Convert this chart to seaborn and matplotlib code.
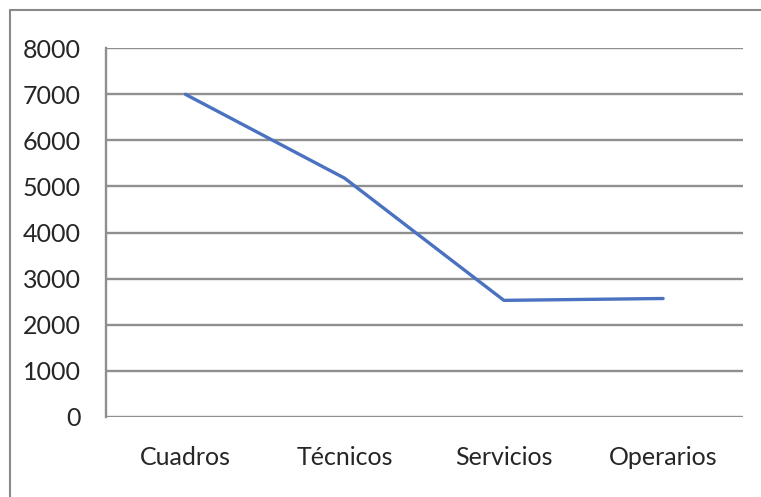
import matplotlib
matplotlib.use("Agg")
import matplotlib.pyplot as plt
from matplotlib.lines import Line2D
import seaborn as sns
import pandas as pd

categorias = ["Cuadros", "Técnicos", "Servicios", "Operarios"]
valores = [7000, 5180, 2530, 2570]
yticks = [0, 1000, 2000, 3000, 4000, 5000, 6000, 7000, 8000]

sns.set_style("white")
plt.rcParams["font.family"] = ["Lato", "DejaVu Sans"]

df = pd.DataFrame({"categoria": categorias, "valor": valores})

fig = plt.figure(figsize=(7.61, 4.97), dpi=100)
ax = fig.add_axes([0.139, 0.161, 0.837, 0.742])

sns.lineplot(data=df, x="categoria", y="valor", ax=ax, color="#4a72c0",
             linewidth=2.4, sort=False, zorder=3)

ax.set_xlim(-0.5, len(categorias) - 0.5)
ax.set_ylim(0, 8000)
ax.set_yticks(yticks)
ax.set_yticklabels([str(v) for v in yticks])
ax.grid(axis="y", color="#8f8f8f", linewidth=1.7)
ax.grid(axis="x", visible=False)
ax.set_axisbelow(True)

for side in ["top", "right", "bottom"]:
    ax.spines[side].set_visible(False)
ax.spines["left"].set_color("#8f8f8f")
ax.spines["left"].set_linewidth(1.7)

ax.tick_params(axis="both", length=0, labelsize=18, colors="#262626")
ax.tick_params(axis="y", pad=18)
ax.tick_params(axis="x", pad=21)
ax.set_xlabel("")
ax.set_ylabel("")

# outer chart frame (top and left edges)
fig.add_artist(Line2D([10 / 761, 1.0], [1 - 10 / 497, 1 - 10 / 497],
                      transform=fig.transFigure, color="#8a8a8a", linewidth=1.5))
fig.add_artist(Line2D([10 / 761, 10 / 761], [0.0, 1 - 10 / 497],
                      transform=fig.transFigure, color="#8a8a8a", linewidth=1.5))

fig.savefig("out.png", dpi=100)
